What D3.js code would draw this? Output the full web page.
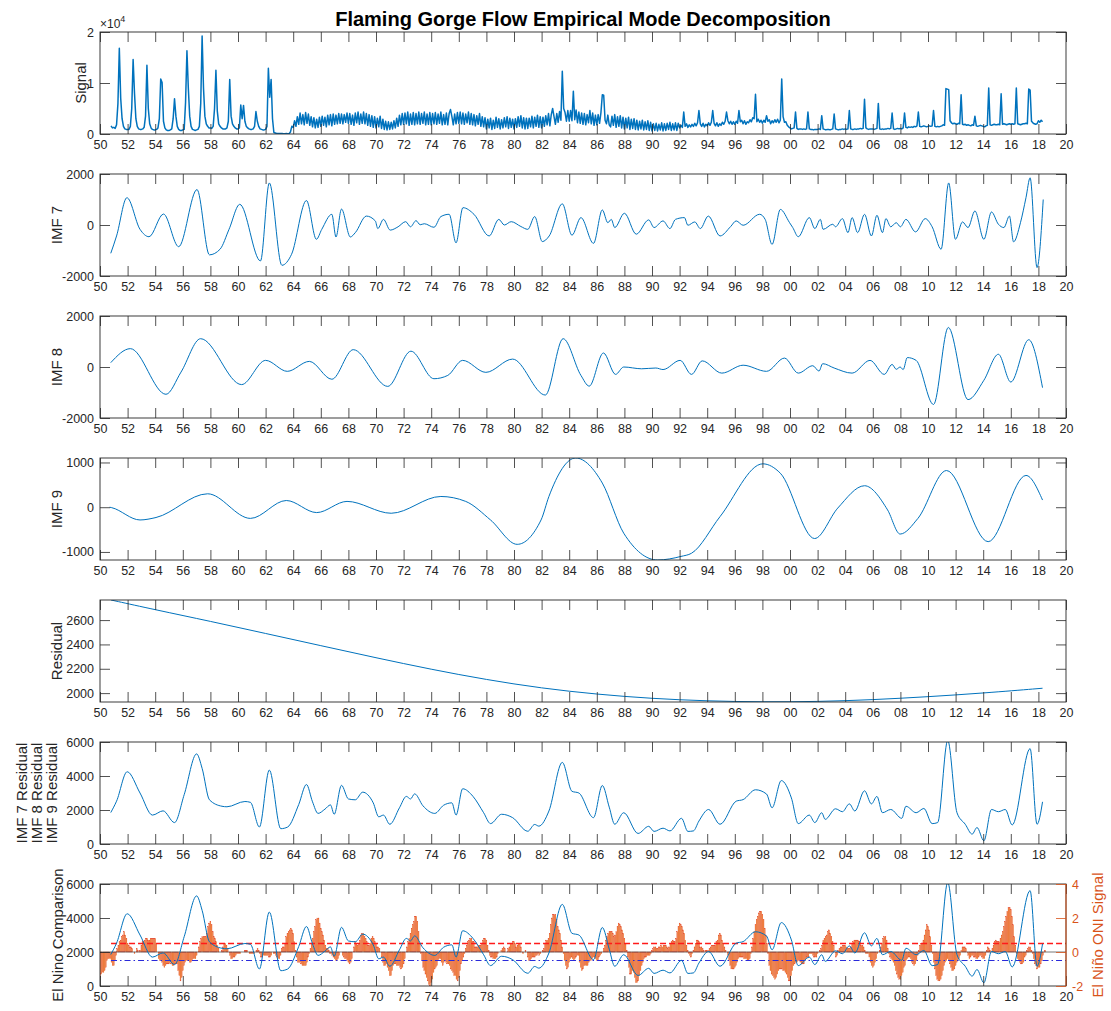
<!DOCTYPE html>
<html>
<head>
<meta charset="utf-8">
<script src="https://cdn.jsdelivr.net/npm/d3@7"></script>
<style>
  body { margin: 0; background: #fff; }
  svg { display: block; }
  text { font-family: "Liberation Sans", Arial, Helvetica, sans-serif; }
</style>
</head>
<body>
<svg id="chart" width="1111" height="1011"></svg>
<script>
// ---------------------------------------------------------------
// Data
// ---------------------------------------------------------------
const xTickYears = d3.range(1950, 2021, 2);

// Flow record, sampled every 0.1 year starting 1950.8 (cfs)
const signalStart = 1950.8;
const signalStep = 0.1;
const signalFlow = [
  1600, 1200,                                                   // 1950 (.8-.9)
  1300, 1100, 1800, 6000, 16800, 7000, 3000, 1500, 1000, 900,   // 1951
  900, 900, 1500, 5000, 14600, 8000, 3000, 1500, 1000, 900,     // 1952
  900, 1000, 1300, 3500, 13500, 5000, 2000, 1200, 900, 800,     // 1953
  800, 900, 1200, 3000, 10800, 10100, 2500, 1200, 800, 700,     // 1954
  700, 800, 1000, 3000, 6900, 3500, 1500, 900, 700, 700,        // 1955
  800, 900, 6200, 16300, 9000, 3500, 1500, 900, 800, 700,       // 1956
  800, 900, 1500, 6000, 19200, 9000, 3500, 2000, 1500, 1200,    // 1957
  1200, 1100, 1500, 5000, 12500, 4500, 2000, 1500, 1200, 1000,  // 1958
  1000, 1000, 1200, 2500, 10700, 3500, 2000, 1500, 1200, 1000,  // 1959
  1000, 1200, 5700, 3000, 5600, 2500, 1500, 1200, 1000, 900,    // 1960
  900, 1000, 1500, 4400, 2500, 1500, 1000, 900, 800, 800,       // 1961
  900, 1500, 12900, 7200, 10700, 3000, 300, 200, 100, 100,      // 1962
  100, 100, 80, 60, 60, 80, 60, 50, 400, 1500,                  // 1963
  1300, 2600, 1500, 3400, 1900, 4100, 2000, 3800, 1800, 4200,   // 1964
  2100, 3900, 1700, 3400, 1400, 3200, 1200, 2900, 1300, 3300,   // 1965
  1500, 3500, 1700, 3300, 1400, 3700, 1800, 3800, 1600, 3900,   // 1966
  1900, 3700, 2000, 4000, 2100, 3900, 2000, 3800, 2300, 4100,   // 1967
  2100, 4000, 1900, 3700, 1700, 4100, 2200, 4300, 1900, 3900,   // 1968
  2100, 4300, 2000, 4000, 1700, 3800, 1500, 3600, 1300, 3400,   // 1969
  1200, 3100, 1400, 3500, 1100, 2900, 900, 2500, 800, 2400,     // 1970
  900, 2300, 1000, 2600, 1200, 3100, 1500, 3700, 1800, 4000,    // 1971
  1900, 4100, 2000, 4300, 1700, 3900, 1900, 4200, 1800, 4000,   // 1972
  2000, 4300, 1900, 4000, 2100, 4300, 1800, 3900, 1900, 4200,   // 1973
  1800, 4000, 2000, 4200, 1900, 3900, 2100, 4300, 1800, 3800,   // 1974
  1900, 4100, 1800, 4000, 4800, 3400, 1800, 3900, 2000, 4200,   // 1975
  2100, 4300, 2000, 4100, 1900, 3900, 2200, 4300, 1900, 4000,   // 1976
  1800, 3800, 1600, 3600, 1900, 4000, 1500, 3400, 1400, 3200,   // 1977
  1000, 2900, 1200, 3100, 900, 2700, 1100, 3300, 1300, 3000,    // 1978
  1000, 2800, 1200, 3200, 1400, 3400, 1100, 3100, 1300, 2900,   // 1979
  1000, 3000, 1300, 3400, 1500, 3600, 1200, 3200, 1000, 3100,   // 1980
  1100, 3100, 1400, 3500, 1200, 3300, 1500, 3700, 1300, 3400,   // 1981
  1200, 3300, 1500, 3600, 1800, 4000, 1600, 3800, 5000, 3400,   // 1982
  1900, 4000, 2300, 4400, 2700, 12300, 5000, 4200, 2500, 4600,  // 1983
  2500, 4600, 2600, 8400, 2800, 4700, 2200, 4300, 2100, 4100,   // 1984
  1900, 4000, 1800, 3800, 2200, 4600, 2000, 4100, 1700, 3700,   // 1985
  1800, 3800, 2100, 4200, 7700, 7600, 2700, 2000, 3700, 1800,   // 1986
  1400, 3500, 1700, 3800, 1300, 3400, 1500, 3600, 1200, 3300,   // 1987
  1000, 3100, 1200, 3300, 900, 2900, 1100, 3000, 900, 2700,     // 1988
  800, 2500, 1000, 2700, 800, 2400, 900, 2600, 700, 2300,       // 1989
  600, 2000, 700, 2100, 600, 1900, 800, 2200, 600, 2000,        // 1990
  700, 2100, 900, 2300, 700, 2000, 800, 2200, 700, 2100,        // 1991
  1200, 1700, 1300, 4300, 1500, 2000, 1300, 1800, 1400, 1900,   // 1992
  1500, 2100, 1600, 2200, 4600, 2000, 1500, 2100, 1400, 1900,   // 1993
  1600, 2200, 1700, 2300, 4600, 2100, 1600, 2200, 1500, 2000,   // 1994
  1700, 2300, 1900, 2500, 4300, 2600, 2000, 2500, 1900, 2400,   // 1995
  1900, 2500, 2100, 4600, 2400, 2700, 2000, 2600, 1900, 2400,   // 1996
  2200, 2800, 2400, 3200, 3000, 7800, 2400, 2900, 2300, 2700,   // 1997
  2100, 2700, 2300, 3600, 2500, 2800, 2000, 2600, 2200, 2800,   // 1998
  2300, 2900, 2200, 2700, 10800, 3400, 2300, 2400, 1700, 1400,  // 1999
  1200, 1000, 1100, 1200, 4300, 1100, 900, 1000, 1000, 900,     // 2000
  1000, 900, 1000, 4300, 1000, 900, 900, 800, 900, 900,         // 2001
  900, 1000, 900, 3600, 1000, 900, 800, 900, 900, 800,          // 2002
  900, 1000, 3900, 1000, 900, 800, 900, 900, 1000, 900,         // 2003
  1000, 900, 1000, 4600, 1000, 900, 900, 1000, 900, 1000,       // 2004
  1000, 1100, 1000, 1100, 6800, 1200, 1000, 900, 1000, 1000,    // 2005
  1000, 900, 1000, 1100, 6000, 1000, 900, 1000, 900, 1000,      // 2006
  1000, 1100, 1000, 1100, 4100, 1000, 900, 1000, 1100, 1000,    // 2007
  1100, 1000, 1200, 4100, 1300, 1200, 1400, 1300, 1400, 1300,   // 2008
  1500, 1400, 1600, 4300, 1500, 1400, 1500, 1600, 1500, 1400,   // 2009
  1500, 1600, 1500, 1600, 4600, 1500, 1400, 1500, 1400, 1500,   // 2010
  1600, 1800, 1700, 8900, 8800, 8700, 2600, 2200, 2000, 2100,   // 2011
  2000, 1900, 2100, 2000, 7700, 1900, 1800, 1900, 1700, 1800,   // 2012
  1700, 1600, 1800, 1700, 3500, 1600, 1500, 1600, 1700, 1600,   // 2013
  1500, 1400, 1600, 1700, 9000, 1800, 1700, 1800, 1900, 1800,   // 2014
  1800, 1900, 1800, 7900, 1900, 2000, 1900, 1800, 1900, 2000,   // 2015
  1900, 2000, 1900, 2000, 9000, 2000, 1900, 1800, 1900, 2000,   // 2016
  2000, 2100, 2000, 8800, 8600, 2500, 2200, 2000, 1900, 2000,   // 2017
  2600, 2300, 2700, 2400                                        // 2018 (.0-.3)
];

// Intrinsic mode functions: [year, value]
const imf7 = [
  [1950.78,-1110],[1951.2,-430],[1951.95,1070],[1952.9,-170],[1953.55,-460],[1954.6,430],
  [1955.7,-850],[1957.03,1390],[1957.93,-1170],[1958.7,-950],[1959.35,-170],[1960.13,810],
  [1961.63,-1410],[1962.27,1650],[1963.18,-1580],[1963.88,-1150],[1964.96,960],[1965.68,-560],
  [1966.07,-170],[1966.8,420],[1967.1,-470],[1967.5,625],[1968.14,-470],[1968.5,-300],
  [1969.3,350],[1969.95,160],[1970.13,-140],[1970.54,220],[1971.03,-200],[1971.6,-70],
  [1972.15,130],[1972.5,-70],[1972.9,170],[1973.2,10],[1973.5,50],[1974.2,-90],[1974.7,330],
  [1975.3,420],[1975.8,-700],[1976.3,680],[1977.1,420],[1978.2,-430],[1978.9,220],[1979.3,0],
  [1979.8,130],[1980.5,-60],[1981.0,-170],[1981.5,330],[1982.05,-650],[1982.55,-430],
  [1983.5,830],[1984.2,-400],[1984.85,290],[1985.76,-720],[1986.4,590],[1986.8,90],
  [1987.05,220],[1987.3,-100],[1988.0,460],[1988.86,-360],[1989.76,200],[1990.15,-100],
  [1990.8,160],[1991.3,-140],[1991.7,220],[1992.35,290],[1992.6,-10],[1993.1,120],
  [1993.5,-140],[1994.08,350],[1994.93,-430],[1995.7,-60],[1996.1,160],[1996.6,-10],
  [1997.8,420],[1998.2,220],[1998.7,-760],[1999.3,610],[1999.97,90],[2000.2,-100],
  [2000.6,-460],[2001.4,290],[2001.8,-140],[2002.2,220],[2002.4,-170],[2003.1,30],
  [2003.3,-70],[2003.8,250],[2004.2,-300],[2004.5,290],[2004.9,-300],[2005.4,420],
  [2005.9,-430],[2006.3,380],[2006.7,-300],[2006.95,250],[2007.3,-70],[2007.7,90],
  [2008.0,-70],[2008.4,220],[2009.1,-270],[2009.8,250],[2010.3,-70],[2010.95,-950],
  [2011.5,1650],[2011.99,-560],[2012.5,120],[2012.9,-100],[2013.4,550],[2014.05,-560],
  [2014.6,510],[2015.1,30],[2015.5,-100],[2015.9,350],[2016.2,-660],[2016.7,90],
  [2017.1,1070],[2017.4,1850],[2017.9,-1670],[2018.35,1000]
];

const imf8 = [
  [1950.78,170],[1952.2,720],[1954.78,-1070],[1955.87,-200],[1957.29,1110],[1960.26,-690],
  [1962.0,260],[1963.57,-170],[1965.17,220],[1966.8,-480],[1968.35,680],[1970.85,-760],
  [1972.53,620],[1974.2,-460],[1975.2,-330],[1976.28,260],[1977.96,-210],[1979.9,310],
  [1982.27,-1100],[1983.56,1110],[1984.85,-330],[1985.45,-750],[1986.48,550],[1987.36,-290],
  [1987.95,0],[1989.25,-70],[1990.28,-40],[1990.8,-100],[1992.04,260],[1992.86,-290],
  [1993.64,240],[1995.06,-240],[1996.6,70],[1998.3,-170],[1999.6,350],[2000.6,-240],
  [2001.65,50],[2002.1,-160],[2002.37,130],[2003.2,-40],[2004.5,-240],[2005.8,260],
  [2006.83,-290],[2007.4,100],[2007.7,-90],[2007.98,0],[2008.2,-100],[2008.5,370],
  [2009.14,260],[2010.4,-1470],[2011.47,1550],[2012.9,-1280],[2014.05,-520],[2015.1,500],
  [2016.0,-590],[2017.3,1070],[2018.3,-810]
];

const imf9 = [
  [1950.7,0],[1950.85,-10],[1952.9,-285],[1954.06,-230],[1957.8,300],[1960.9,-250],
  [1963.5,150],[1965.7,-120],[1967.9,130],[1971.1,-135],[1974.7,240],[1976.5,130],
  [1978.3,-285],[1980.23,-830],[1981.96,-285],[1982.53,240],[1984.47,1100],[1986.4,540],
  [1987.95,-580],[1990.4,-1180],[1992.1,-1100],[1992.86,-1030],[1994.93,-210],[1998.03,970],
  [1999.3,760],[2001.78,-700],[2003.46,-20],[2005.4,480],[2007.07,-60],[2007.98,-600],
  [2009.27,-250],[2011.34,820],[2014.36,-770],[2017.1,710],[2018.3,160]
];

const residual = [
  [1950.8,2765],[1954,2685],[1958,2590],[1962,2490],[1966,2390],[1970,2290],[1974,2195],
  [1978,2110],[1982,2040],[1986,1990],[1990,1955],[1994,1935],[1998,1927],[2002,1930],
  [2006,1945],[2010,1970],[2014,2000],[2018.3,2040]
];

// IMF 7 + IMF 8 + IMF 9 + residual
const imfSum = [
  [1950.78,1850],[1951.2,2520],[1951.97,4250],[1952.9,3000],[1953.8,1700],[1954.57,1950],
  [1955.4,1260],[1956.1,2900],[1957.0,5300],[1957.4,4450],[1957.93,2600],[1958.84,2220],
  [1959.2,2190],[1960.5,2500],[1960.9,2450],[1961.55,1000],[1962.27,4350],[1963.1,900],
  [1963.6,1000],[1964.4,2320],[1964.96,3500],[1965.4,2480],[1965.8,1800],[1966.3,2050],
  [1966.7,2300],[1966.97,1750],[1967.5,3450],[1968.0,2650],[1968.5,2600],[1969.04,3050],
  [1969.4,2900],[1969.8,2420],[1970.2,1600],[1970.54,1700],[1971.0,1160],[1971.7,2130],
  [1972.2,2800],[1972.5,2650],[1972.8,2950],[1973.4,2250],[1974.26,1800],[1974.9,2280],
  [1975.5,2420],[1975.8,1700],[1976.28,3250],[1977.03,2800],[1977.8,1840],[1978.3,1200],
  [1979.1,1750],[1979.9,1550],[1981.0,750],[1981.5,1150],[1981.8,1050],[1982.53,1940],
  [1983.5,4800],[1984.2,3100],[1984.7,3000],[1985.76,1550],[1986.4,3440],[1986.9,2170],
  [1987.3,1160],[1987.95,1840],[1988.99,620],[1989.76,1040],[1990.15,740],[1990.8,930],
  [1991.3,770],[1992.14,1510],[1992.6,740],[1993.0,770],[1993.4,1350],[1994.1,2030],
  [1994.93,1160],[1996.1,2520],[1996.6,2610],[1997.5,3190],[1998.3,2940],[1998.7,2130],
  [1999.37,3730],[2000.1,2710],[2000.6,1200],[2001.4,1700],[2001.8,1260],[2002.3,1840],
  [2002.55,1450],[2003.3,2070],[2003.8,1900],[2004.3,2360],[2004.7,1940],[2005.4,3130],
  [2005.9,2360],[2006.3,2800],[2006.7,1840],[2007.3,2030],[2008.1,1510],[2008.4,2220],
  [2009.14,1840],[2009.7,2090],[2010.3,1200],[2010.7,1260],[2011.43,6100],[2012.1,1840],
  [2012.7,1160],[2013.2,580],[2013.55,970],[2014.05,190],[2014.6,2030],[2015.1,1900],
  [2015.6,2030],[2016.1,1120],[2017.4,5610],[2017.9,1160],[2018.3,2480]
];

// Oceanic Nino Index, 3-month running means, monthly from Jan 1950
const oniStart = 1950;
const oniMonthly = [
  -1.5,-1.3,-1.2,-1.2,-1.1,-0.9,-0.5,-0.4,-0.4,-0.4,-0.6,-0.8,  // 1950
  -0.8,-0.5,-0.2,0.2,0.4,0.6,0.7,0.9,1.0,1.2,1.0,0.8,           // 1951
  0.5,0.4,0.3,0.3,0.2,0.0,-0.1,0.0,0.2,0.1,0.0,0.1,             // 1952
  0.4,0.6,0.6,0.7,0.8,0.8,0.7,0.7,0.8,0.8,0.8,0.8,              // 1953
  0.8,0.5,0.0,-0.4,-0.5,-0.5,-0.6,-0.8,-0.9,-0.8,-0.7,-0.7,     // 1954
  -0.7,-0.6,-0.7,-0.8,-0.8,-0.7,-0.7,-0.7,-1.1,-1.4,-1.7,-1.5,  // 1955
  -1.1,-0.8,-0.6,-0.5,-0.5,-0.5,-0.6,-0.6,-0.5,-0.4,-0.4,-0.4,  // 1956
  -0.2,0.0,0.3,0.6,0.8,0.9,0.9,0.9,0.9,1.1,1.5,1.7,             // 1957
  1.8,1.6,1.2,0.9,0.8,0.6,0.4,0.2,0.0,0.0,0.1,0.3,              // 1958
  0.5,0.5,0.4,0.2,0.0,-0.2,-0.4,-0.4,-0.3,-0.3,-0.2,-0.1,       // 1959
  -0.1,-0.1,-0.1,0.0,0.0,0.0,0.1,0.1,0.1,0.0,-0.1,-0.1,         // 1960
  -0.1,-0.1,-0.1,0.0,0.1,0.2,0.1,-0.1,-0.3,-0.3,-0.2,-0.2,      // 1961
  -0.2,-0.2,-0.2,-0.3,-0.3,-0.2,0.0,-0.1,-0.1,-0.2,-0.3,-0.4,   // 1962
  -0.4,-0.2,0.2,0.3,0.3,0.5,0.9,1.1,1.2,1.3,1.4,1.3,            // 1963
  1.1,0.6,0.1,-0.3,-0.6,-0.6,-0.6,-0.7,-0.8,-0.8,-0.8,-0.8,     // 1964
  -0.6,-0.3,-0.1,0.2,0.5,0.8,1.2,1.5,1.9,2.0,2.0,1.7,           // 1965
  1.4,1.2,1.0,0.7,0.4,0.2,0.2,0.1,-0.1,-0.1,-0.2,-0.3,          // 1966
  -0.4,-0.5,-0.5,-0.4,-0.2,0.0,0.0,-0.2,-0.3,-0.4,-0.4,-0.5,    // 1967
  -0.6,-0.7,-0.6,-0.4,0.0,0.3,0.6,0.5,0.4,0.5,0.7,1.0,          // 1968
  1.1,1.1,0.9,0.8,0.6,0.4,0.4,0.5,0.8,0.9,0.8,0.6,              // 1969
  0.5,0.3,0.3,0.2,0.0,-0.3,-0.6,-0.8,-0.8,-0.7,-0.9,-1.1,       // 1970
  -1.4,-1.4,-1.1,-0.8,-0.7,-0.7,-0.8,-0.8,-0.8,-0.9,-1.0,-0.9,  // 1971
  -0.7,-0.4,0.0,0.3,0.6,0.8,1.1,1.4,1.6,1.8,2.1,2.1,            // 1972
  1.8,1.2,0.5,-0.1,-0.5,-0.9,-1.1,-1.3,-1.5,-1.7,-1.9,-2.0,     // 1973
  -1.8,-1.6,-1.2,-1.0,-0.9,-0.8,-0.5,-0.4,-0.4,-0.6,-0.8,-0.6,  // 1974
  -0.5,-0.6,-0.7,-0.7,-0.8,-1.0,-1.1,-1.2,-1.4,-1.4,-1.6,-1.7,  // 1975
  -1.5,-1.1,-0.7,-0.5,-0.3,-0.1,0.2,0.4,0.6,0.7,0.8,0.8,        // 1976
  0.6,0.6,0.3,0.3,0.3,0.4,0.4,0.4,0.5,0.7,0.8,0.8,              // 1977
  0.7,0.4,0.1,-0.2,-0.3,-0.3,-0.4,-0.4,-0.4,-0.3,-0.1,0.0,      // 1978
  0.0,0.1,0.2,0.3,0.2,0.0,0.0,0.2,0.3,0.5,0.5,0.6,              // 1979
  0.6,0.5,0.3,0.4,0.5,0.5,0.3,0.0,-0.1,0.0,0.1,0.0,             // 1980
  -0.3,-0.5,-0.5,-0.4,-0.3,-0.3,-0.3,-0.2,-0.2,-0.1,-0.2,-0.1,  // 1981
  0.0,0.1,0.2,0.5,0.7,0.7,0.8,1.1,1.6,2.0,2.2,2.2,              // 1982
  2.2,1.9,1.5,1.3,1.1,0.7,0.3,-0.1,-0.5,-0.8,-1.0,-0.9,         // 1983
  -0.6,-0.4,-0.3,-0.4,-0.5,-0.4,-0.3,-0.2,-0.2,-0.6,-0.9,-1.1,  // 1984
  -1.0,-0.8,-0.8,-0.8,-0.8,-0.6,-0.5,-0.5,-0.4,-0.3,-0.3,-0.4,  // 1985
  -0.5,-0.5,-0.3,-0.2,-0.1,0.0,0.2,0.4,0.7,0.9,1.1,1.2,         // 1986
  1.2,1.2,1.1,0.9,1.0,1.2,1.5,1.7,1.6,1.5,1.3,1.1,              // 1987
  0.8,0.5,0.1,-0.3,-0.9,-1.3,-1.3,-1.1,-1.2,-1.5,-1.8,-1.8,     // 1988
  -1.7,-1.4,-1.1,-0.8,-0.6,-0.4,-0.3,-0.3,-0.2,-0.2,-0.2,-0.1,  // 1989
  0.1,0.2,0.3,0.3,0.2,0.2,0.3,0.3,0.4,0.3,0.4,0.4,              // 1990
  0.4,0.3,0.2,0.3,0.5,0.6,0.7,0.6,0.6,0.8,1.2,1.5,              // 1991
  1.7,1.6,1.5,1.3,1.1,0.7,0.4,0.1,-0.1,-0.2,-0.3,-0.1,          // 1992
  0.1,0.3,0.5,0.7,0.7,0.6,0.3,0.3,0.2,0.1,0.0,0.1,              // 1993
  0.1,0.1,0.2,0.3,0.4,0.4,0.4,0.4,0.6,0.7,1.0,1.1,              // 1994
  1.0,0.7,0.5,0.3,0.1,0.0,-0.2,-0.5,-0.8,-1.0,-1.0,-1.0,        // 1995
  -0.9,-0.8,-0.6,-0.4,-0.3,-0.3,-0.3,-0.3,-0.4,-0.4,-0.4,-0.5,  // 1996
  -0.5,-0.4,-0.1,0.3,0.8,1.2,1.6,1.9,2.1,2.3,2.4,2.4,           // 1997
  2.2,1.9,1.4,1.0,0.5,-0.1,-0.8,-1.1,-1.3,-1.4,-1.5,-1.6,       // 1998
  -1.5,-1.3,-1.1,-1.0,-1.0,-1.0,-1.1,-1.1,-1.2,-1.3,-1.5,-1.7,  // 1999
  -1.7,-1.4,-1.1,-0.8,-0.7,-0.6,-0.6,-0.5,-0.5,-0.6,-0.7,-0.7,  // 2000
  -0.7,-0.5,-0.4,-0.3,-0.3,-0.1,-0.1,-0.1,-0.2,-0.3,-0.3,-0.3,  // 2001
  -0.1,0.0,0.1,0.2,0.4,0.7,0.8,0.9,1.0,1.2,1.3,1.1,             // 2002
  0.9,0.6,0.4,0.0,-0.3,-0.2,0.1,0.2,0.3,0.3,0.4,0.4,            // 2003
  0.4,0.3,0.2,0.2,0.2,0.3,0.5,0.6,0.7,0.7,0.7,0.7,              // 2004
  0.6,0.6,0.4,0.4,0.3,0.1,-0.1,-0.1,-0.1,-0.3,-0.6,-0.8,        // 2005
  -0.9,-0.8,-0.6,-0.4,-0.1,0.0,0.1,0.3,0.5,0.8,0.9,0.9,         // 2006
  0.7,0.2,-0.1,-0.3,-0.4,-0.5,-0.6,-0.8,-1.1,-1.3,-1.5,-1.6,    // 2007
  -1.6,-1.4,-1.2,-0.9,-0.8,-0.5,-0.4,-0.3,-0.3,-0.4,-0.6,-0.7,  // 2008
  -0.8,-0.7,-0.5,-0.2,0.1,0.4,0.5,0.5,0.7,1.0,1.3,1.6,          // 2009
  1.5,1.3,0.9,0.4,-0.1,-0.6,-1.0,-1.4,-1.6,-1.7,-1.7,-1.6,      // 2010
  -1.4,-1.1,-0.8,-0.6,-0.5,-0.4,-0.5,-0.7,-0.9,-1.1,-1.1,-1.0,  // 2011
  -0.8,-0.6,-0.5,-0.4,-0.2,0.1,0.3,0.3,0.3,0.2,0.0,-0.2,        // 2012
  -0.4,-0.3,-0.2,-0.2,-0.3,-0.3,-0.4,-0.4,-0.3,-0.2,-0.2,-0.3,  // 2013
  -0.4,-0.4,-0.2,0.1,0.3,0.2,0.1,0.0,0.2,0.4,0.6,0.7,           // 2014
  0.6,0.6,0.6,0.8,1.0,1.2,1.5,1.8,2.1,2.4,2.6,2.6,              // 2015
  2.5,2.1,1.6,0.9,0.4,-0.1,-0.4,-0.5,-0.6,-0.7,-0.7,-0.6,       // 2016
  -0.3,-0.2,0.1,0.2,0.3,0.3,0.1,-0.1,-0.4,-0.7,-0.8,-1.0,       // 2017
  -0.9,-0.9,-0.7,-0.5,-0.2,0.0,0.1                              // 2018
];
const oniThresholds = { elNino: 0.5, laNina: -0.5 };

// ---------------------------------------------------------------
// Layout & scales
// ---------------------------------------------------------------
const svg = d3.select("#chart");
const AX = "#262626";
const LINE = "#0072BD";
const ORANGE = "#D95319";
const plotLeft = 100, plotRight = 1066;
const panelTops = [32, 174, 316, 458, 600, 742, 884];
const panelH = 102;
const TICK = 10;

const x = d3.scaleLinear().domain([1950, 2020]).range([plotLeft, plotRight]);
const fmtYear = d => String(d % 100).padStart(2, "0");

svg.append("rect").attr("width", 1111).attr("height", 1011).attr("fill", "#fff");

svg.append("text")
  .attr("x", (plotLeft + plotRight) / 2).attr("y", 26)
  .attr("text-anchor", "middle")
  .attr("font-size", 20).attr("font-weight", "bold").attr("fill", "#000")
  .text("Flaming Gorge Flow Empirical Mode Decomposition");

function makePanel(idx, cfg) {
  const top = panelTops[idx], bottom = top + panelH;
  const y = d3.scaleLinear().domain(cfg.domain).range([bottom, top]);
  const g = svg.append("g");
  const clipId = "clip" + idx;
  svg.append("clipPath").attr("id", clipId)
    .append("rect").attr("x", plotLeft).attr("y", top)
    .attr("width", plotRight - plotLeft).attr("height", panelH);
  const plot = g.append("g").attr("clip-path", `url(#${clipId})`);

  const styleAxis = sel => {
    sel.select(".domain").remove();
    sel.selectAll(".tick line").attr("stroke", AX).attr("stroke-width", 0.8);
    sel.selectAll(".tick text").attr("fill", AX).attr("font-size", 12.5)
      .attr("font-family", '"Liberation Sans", Arial, sans-serif');
  };
  g.append("g").attr("transform", `translate(0,${bottom})`)
    .call(d3.axisBottom(x).tickValues(xTickYears).tickFormat(fmtYear)
      .tickSizeInner(-TICK).tickSizeOuter(0).tickPadding(6))
    .call(styleAxis);
  g.append("g").attr("transform", `translate(0,${top})`)
    .call(d3.axisTop(x).tickValues(xTickYears).tickFormat("")
      .tickSizeInner(-TICK).tickSizeOuter(0))
    .call(styleAxis);
  g.append("g").attr("transform", `translate(${plotLeft},0)`)
    .call(d3.axisLeft(y).tickValues(cfg.ticks).tickFormat(cfg.fmt || (d => String(d)))
      .tickSizeInner(-TICK).tickSizeOuter(0).tickPadding(6))
    .call(styleAxis);
  if (!cfg.rightAxis) {
    g.append("g").attr("transform", `translate(${plotRight},0)`)
      .call(d3.axisRight(y).tickValues(cfg.ticks).tickFormat("")
        .tickSizeInner(-TICK).tickSizeOuter(0))
      .call(styleAxis);
  }

  g.append("rect")
    .attr("x", plotLeft).attr("y", top)
    .attr("width", plotRight - plotLeft).attr("height", panelH)
    .attr("fill", "none").attr("stroke", AX).attr("stroke-width", 0.9);

  const labels = Array.isArray(cfg.label) ? cfg.label : [cfg.label];
  labels.forEach((t, k) => {
    g.append("text")
      .attr("transform", `translate(${cfg.labelX[k]},${top + panelH / 2}) rotate(-90)`)
      .attr("text-anchor", "middle").attr("dominant-baseline", "central")
      .attr("font-size", 15).attr("fill", AX)
      .text(t);
  });
  return { g, plot, y, top, bottom };
}

const lineOf = (y, curve) => d3.line()
  .x(d => x(d[0])).y(d => y(d[1])).curve(curve || d3.curveMonotoneX);

// Panel 1: raw signal
{
  const p = makePanel(0, {
    domain: [0, 20000], ticks: [0, 10000, 20000], fmt: d => String(d / 10000),
    label: "Signal", labelX: [80]
  });
  const pts = signalFlow.map((v, i) => [signalStart + i * signalStep, v]);
  p.plot.append("path").datum(pts)
    .attr("d", lineOf(p.y, d3.curveLinear))
    .attr("fill", "none").attr("stroke", LINE).attr("stroke-width", 1.5)
    .attr("stroke-linejoin", "round");
  const ex = p.g.append("text").attr("x", plotLeft).attr("y", p.top - 4)
    .attr("font-size", 12).attr("fill", AX);
  ex.append("tspan").text("\u00d710");
  ex.append("tspan").attr("dy", -6).attr("font-size", 9).text("4");
}

// Panels 2-4: IMFs
[[1, imf7, "IMF 7", [-2000, 2000], [-2000, 0, 2000]],
 [2, imf8, "IMF 8", [-2000, 2000], [-2000, 0, 2000]],
 [3, imf9, "IMF 9", d3.extent(imf9, d => d[1]), [-1000, 0, 1000]]
].forEach(([idx, data, label, domain, ticks]) => {
  const p = makePanel(idx, { domain, ticks, label, labelX: [56] });
  p.plot.append("path").datum(data)
    .attr("d", lineOf(p.y))
    .attr("fill", "none").attr("stroke", LINE).attr("stroke-width", 1);
});

// Panel 5: residual trend
{
  const p = makePanel(4, {
    domain: d3.extent(residual, d => d[1]), ticks: [2000, 2200, 2400, 2600],
    label: "Residual", labelX: [56]
  });
  p.plot.append("path").datum(residual)
    .attr("d", lineOf(p.y, d3.curveBasis))
    .attr("fill", "none").attr("stroke", LINE).attr("stroke-width", 1);
}

// Panel 6: reconstruction from IMF 7-9 + residual
{
  const p = makePanel(5, {
    domain: [0, 6000], ticks: [0, 2000, 4000, 6000],
    label: ["IMF 7 Residual", "IMF 8 Residual", "IMF 9 Residual"], labelX: [21, 36, 51]
  });
  p.plot.append("path").datum(imfSum)
    .attr("d", lineOf(p.y))
    .attr("fill", "none").attr("stroke", LINE).attr("stroke-width", 1);
}

// Panel 7: comparison with ONI
{
  const p = makePanel(6, {
    domain: [0, 6000], ticks: [0, 2000, 4000, 6000],
    label: "El Nino Comparison", labelX: [57], rightAxis: true
  });
  const yR = d3.scaleLinear().domain([-2, 4]).range([p.bottom, p.top]);
  const barW = (x(1951) - x(1950)) / 12 * 0.8;
  const oni = oniMonthly.map((v, i) => [oniStart + i / 12, v]);

  p.plot.append("g").selectAll("rect").data(oni).join("rect")
    .attr("x", d => x(d[0]) - barW / 2)
    .attr("width", barW)
    .attr("y", d => Math.min(yR(d[1]), yR(0)))
    .attr("height", d => Math.abs(yR(d[1]) - yR(0)))
    .attr("fill", "#F2923A").attr("stroke", "#E2402A").attr("stroke-width", 0.3);

  p.plot.append("line")
    .attr("x1", plotLeft).attr("x2", plotRight)
    .attr("y1", yR(0)).attr("y2", yR(0))
    .attr("stroke", "#555").attr("stroke-width", 0.8);

  p.plot.append("line")
    .attr("x1", x(1950.8)).attr("x2", plotRight)
    .attr("y1", yR(oniThresholds.elNino)).attr("y2", yR(oniThresholds.elNino))
    .attr("stroke", "#FF1A1A").attr("stroke-width", 1.3).attr("stroke-dasharray", "6,3");
  p.plot.append("line")
    .attr("x1", x(1950.8)).attr("x2", plotRight)
    .attr("y1", yR(oniThresholds.laNina)).attr("y2", yR(oniThresholds.laNina))
    .attr("stroke", "#2A2ADA").attr("stroke-width", 1).attr("stroke-dasharray", "6,3,1.5,3");

  p.plot.append("path").datum(imfSum)
    .attr("d", lineOf(p.y))
    .attr("fill", "none").attr("stroke", LINE).attr("stroke-width", 1);

  // orange right axis
  const ra = p.g.append("g").attr("transform", `translate(${plotRight},0)`)
    .call(d3.axisRight(yR).tickValues([-2, 0, 2, 4]).tickFormat(d => String(d))
      .tickSizeInner(-TICK).tickSizeOuter(0).tickPadding(6));
  ra.select(".domain").remove();
  ra.selectAll(".tick line").attr("stroke", ORANGE).attr("stroke-width", 0.8);
  ra.selectAll(".tick text").attr("fill", ORANGE).attr("font-size", 12.5);
  p.g.append("line")
    .attr("x1", plotRight).attr("x2", plotRight)
    .attr("y1", p.top).attr("y2", p.bottom)
    .attr("stroke", ORANGE).attr("stroke-width", 1);
  p.g.append("text")
    .attr("transform", `translate(1097,${p.top + panelH / 2}) rotate(-90)`)
    .attr("text-anchor", "middle").attr("dominant-baseline", "central")
    .attr("font-size", 15).attr("fill", ORANGE)
    .text("El Niño ONI Signal");
}
</script>
</body>
</html>
